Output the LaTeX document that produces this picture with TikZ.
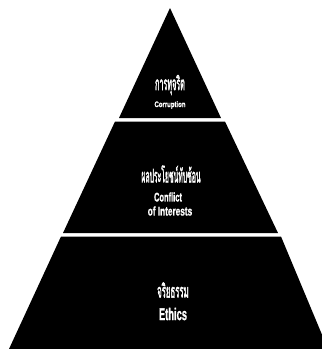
\documentclass[tikz,border=0pt]{standalone}
\usepackage{fontspec}
\newfontfamily\thaifont[Script=Thai,FakeBold=2.5]{Loma}
\newfontfamily\enfont[FakeBold=1.5]{Liberation Sans Bold}
\setmainfont{Liberation Sans}
\newcommand{\thtxt}[2]{\scalebox{#1}[1]{\thaifont\fontsize{19}{20}\selectfont #2}}
\newcommand{\entxt}[3]{\scalebox{#1}[1]{\enfont\fontsize{#2}{#2}\selectfont #3}}
\begin{document}
\begin{tikzpicture}[x=1pt,y=-1pt,
  band/.style={fill=black,draw=none},
  lbl/.style={text=white,align=center,inner sep=0pt}]
\useasboundingbox (0,0) rectangle (322,349);
\fill[band] (170,8) -- (221,118) -- (119,118) -- cycle;
\fill[band] (115,121.5) -- (225,121.5) -- (278,233) -- (63,233) -- cycle;
\fill[band] (61,236.5) -- (281,236.5) -- (328,349) -- (9,349) -- cycle;
\node[lbl] (t1) at (170,85) {\thtxt{0.38}{การทุจริต}};
\node[lbl] (e1) at (170,105) {\entxt{0.75}{8}{Corruption}};
\node[lbl] (t2) at (171,174) {\thtxt{0.36}{ผลประโยชน์ทับซ้อน}};
\node[lbl] (e2a) at (168,197) {\entxt{0.6}{12.5}{Conflict}};
\node[lbl] (e2b) at (170,211) {\entxt{0.66}{12.5}{of Interests}};
\node[lbl] (t3) at (173,290) {\thtxt{0.41}{จริยธรรม}};
\node[lbl] (e3) at (173,314) {\entxt{0.55}{17}{Ethics}};
\end{tikzpicture}
\end{document}
